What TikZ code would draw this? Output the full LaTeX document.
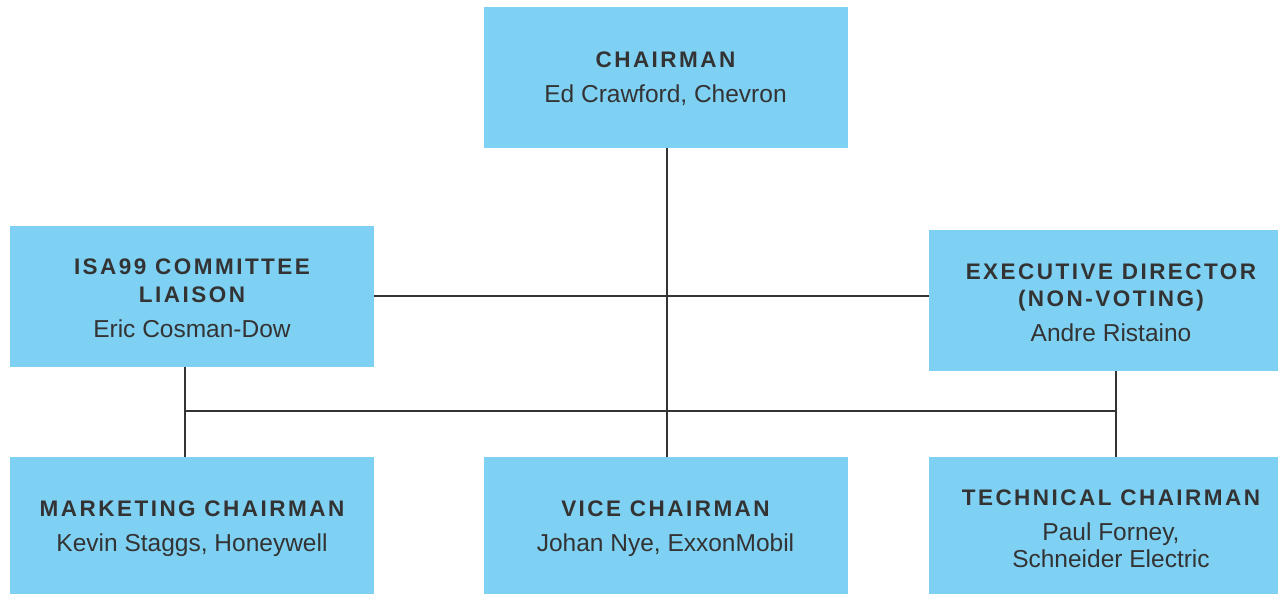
\documentclass[tikz,border=0pt]{standalone}
\usepackage{fontspec}
\setmainfont{Liberation Sans}
\newfontfamily\ttl[LetterSpace=11]{Liberation Sans}
\definecolor{boxblue}{HTML}{7FD1F4}
\definecolor{txt}{HTML}{333333}
\definecolor{ln}{HTML}{333333}
\newcommand\ttlx[1]{{\ttl\bfseries\fontsize{22.5}{28}\selectfont #1}}
\tikzset{
  box/.style={fill=boxblue, minimum width=364, minimum height=141, inner sep=0pt},
  label/.style={align=center, inner sep=0pt, text=txt, font=\fontsize{24.5}{27.5}\selectfont},
  conn/.style={draw=ln, line width=2pt}
}
\begin{document}
\begin{tikzpicture}[x=1pt,y=-1pt]
\useasboundingbox (0,0) rectangle (1278,594);
\clip (0,0) rectangle (1278,594);
\node[box] (chair) at (665.5,77.5) {};
\node[box] (isa) at (192,296.5) {};
\node[box] (exec) at (1111,300.5) {};
\node[box] (mkt) at (192,527.5) {};
\node[box] (vice) at (665.5,527.5) {};
\node[box] (tech) at (1111,527.5) {};
\node[label] (chairT) at ([yshift=-1.5pt]chair.center) {\ttlx{CHAIRMAN}\\[7.5pt]Ed Crawford, Chevron};
\node[label] (isaT) at ([yshift=-2pt]isa.center) {\ttlx{ISA99 COMMITTEE}\\\ttlx{LIAISON}\\[7.5pt]Eric Cosman-Dow};
\node[label] (execT) at ([yshift=-2.5pt]exec.center) {\ttlx{EXECUTIVE DIRECTOR}\\\ttlx{(NON-VOTING)}\\[7.5pt]Andre Ristaino};
\node[label] (mktT) at ([yshift=-1.5pt]mkt.center) {\ttlx{MARKETING CHAIRMAN}\\[7.5pt]Kevin Staggs, Honeywell};
\node[label] (viceT) at ([yshift=-1.5pt]vice.center) {\ttlx{VICE CHAIRMAN}\\[7.5pt]Johan Nye, ExxonMobil};
\node[label] (techT) at ([yshift=-1.5pt]tech.center) {\ttlx{TECHNICAL CHAIRMAN}\\[7.5pt]Paul Forney,\\Schneider Electric};
\coordinate (jl) at (185,411);
\coordinate (jr) at (1116,411);
\coordinate (jm) at (667,296);
\draw[conn] (chair.south -| jm) -- (vice.north -| jm);
\draw[conn] (isa.east |- jm) -- (exec.west |- jm);
\draw[conn] (jl) -- (jr);
\draw[conn] (isa.south -| jl) -- (mkt.north -| jl);
\draw[conn] (exec.south -| jr) -- (tech.north -| jr);
\end{tikzpicture}
\end{document}
